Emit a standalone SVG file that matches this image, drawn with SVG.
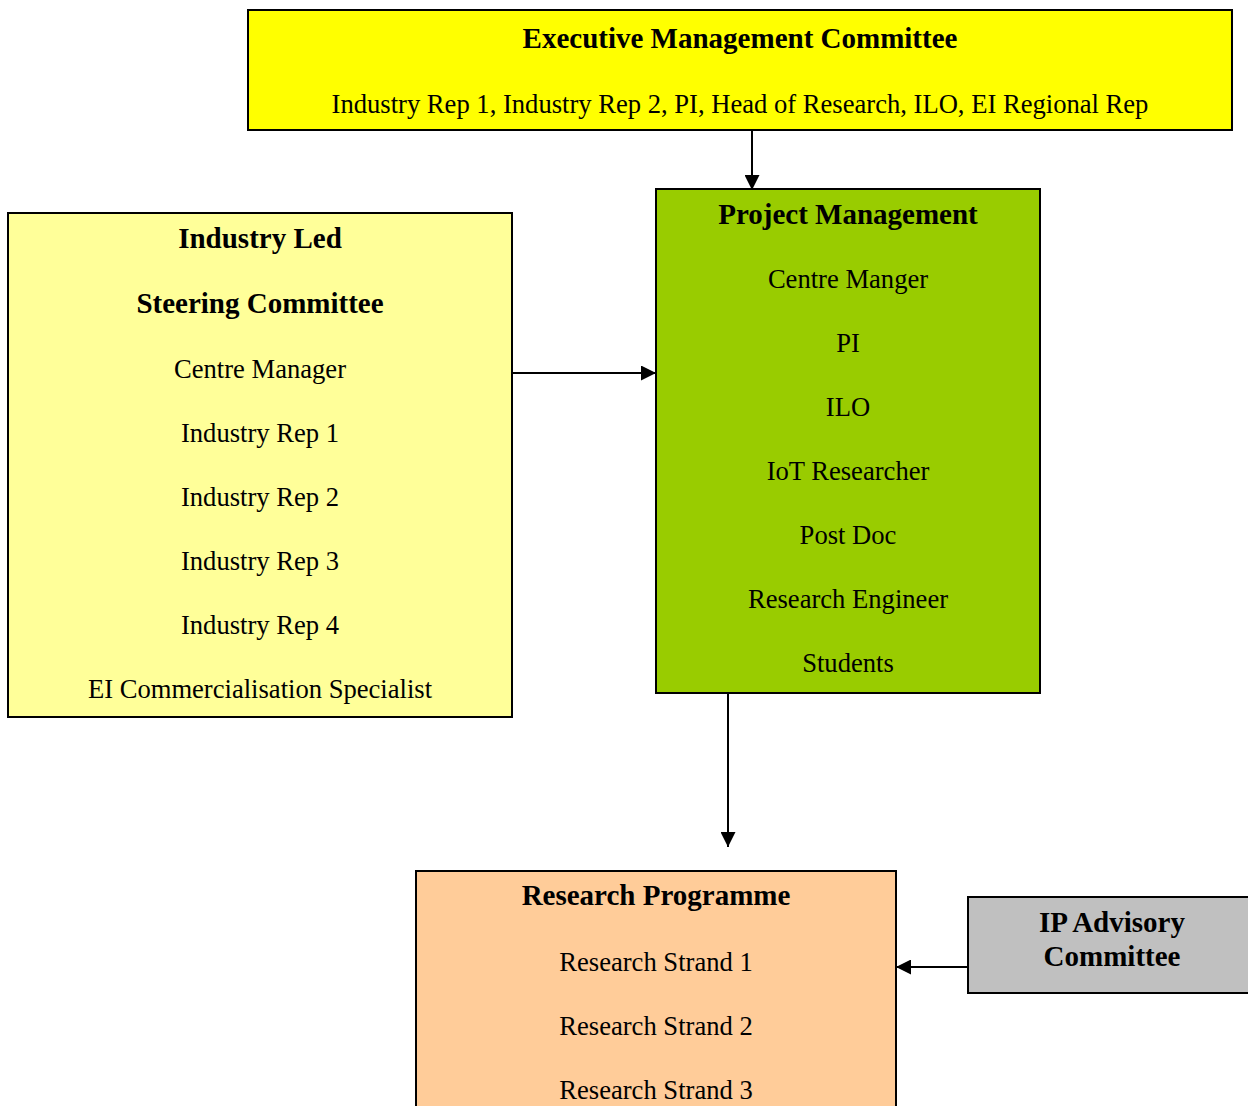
<svg xmlns="http://www.w3.org/2000/svg" width="1248" height="1106" viewBox="0 0 1248 1106">
<defs>
<style>
.box{stroke:#000;stroke-width:2}
.t{font-family:"Liberation Serif","Times New Roman",serif;font-size:26.6px;fill:#000;text-anchor:middle}
.b{font-weight:bold;font-size:29px}
.c{stroke:#000;stroke-width:2;fill:none}
</style>
<marker id="a" viewBox="0 0 15 15" refX="15" refY="7.5" markerWidth="15" markerHeight="15" markerUnits="userSpaceOnUse" orient="auto">
<path d="M0,0 L15,7.5 L0,15 z" fill="#000"/>
</marker>
</defs>
<rect width="1248" height="1106" fill="#fff"/>
<g id="connectors">
<line class="c" x1="752" y1="130" x2="752" y2="190" marker-end="url(#a)"/>
<line class="c" x1="512" y1="373" x2="656" y2="373" marker-end="url(#a)"/>
<line class="c" x1="728" y1="693" x2="728" y2="847" marker-end="url(#a)"/>
<line class="c" x1="968" y1="967" x2="896" y2="967" marker-end="url(#a)"/>
</g>
<g id="executive">
<rect class="box" x="248" y="10" width="984" height="120" fill="#FFFF00"/>
<text class="t b" x="740" y="48">Executive Management Committee</text>
<text class="t" x="740" y="113">Industry Rep 1, Industry Rep 2, PI, Head of Research, ILO, EI Regional Rep</text>
</g>
<g id="steering">
<rect class="box" x="8" y="213" width="504" height="504" fill="#FFFF99"/>
<text class="t b" x="260" y="248">Industry Led</text>
<text class="t b" x="260" y="313">Steering Committee</text>
<text class="t" x="260" y="378">Centre Manager</text>
<text class="t" x="260" y="442">Industry Rep 1</text>
<text class="t" x="260" y="506">Industry Rep 2</text>
<text class="t" x="260" y="570">Industry Rep 3</text>
<text class="t" x="260" y="634">Industry Rep 4</text>
<text class="t" x="260" y="698">EI Commercialisation Specialist</text>
</g>
<g id="project">
<rect class="box" x="656" y="189" width="384" height="504" fill="#99CC00"/>
<text class="t b" x="848" y="224">Project Management</text>
<text class="t" x="848" y="288">Centre Manger</text>
<text class="t" x="848" y="352">PI</text>
<text class="t" x="848" y="416">ILO</text>
<text class="t" x="848" y="480">IoT Researcher</text>
<text class="t" x="848" y="544">Post Doc</text>
<text class="t" x="848" y="608">Research Engineer</text>
<text class="t" x="848" y="672">Students</text>
</g>
<g id="research">
<rect class="box" x="416" y="871" width="480" height="260" fill="#FFCC99"/>
<text class="t b" x="656" y="905">Research Programme</text>
<text class="t" x="656" y="971">Research Strand 1</text>
<text class="t" x="656" y="1035">Research Strand 2</text>
<text class="t" x="656" y="1099">Research Strand 3</text>
</g>
<g id="ip">
<rect class="box" x="968" y="897" width="290" height="96" fill="#C0C0C0"/>
<text class="t b" x="1112" y="932">IP Advisory</text>
<text class="t b" x="1112" y="966">Committee</text>
</g>
</svg>
